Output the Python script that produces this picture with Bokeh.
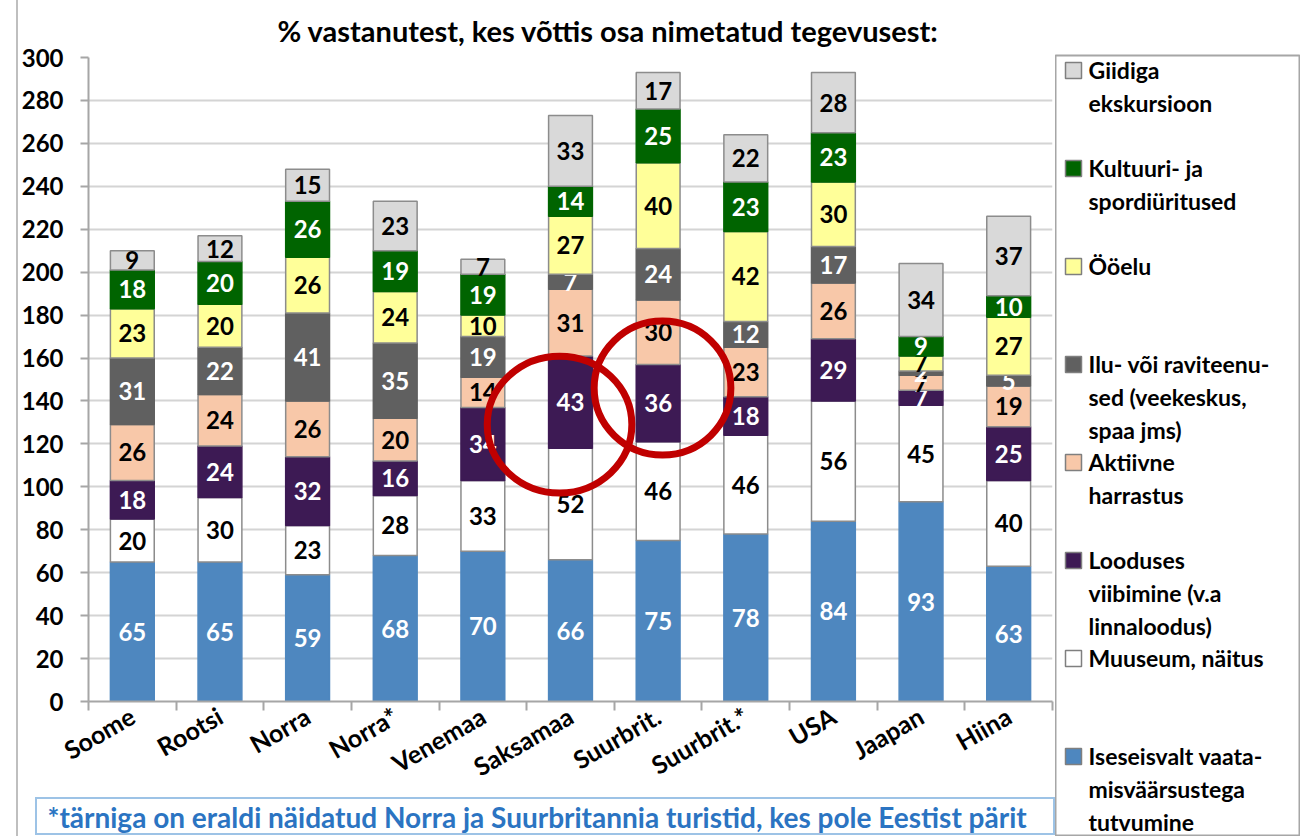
import math
from bokeh.plotting import figure
from bokeh.models import Range1d, FixedTicker, Div, Spacer
from bokeh.layouts import row, column
from bokeh.core.properties import value
from bokeh.embed import file_html
from bokeh.resources import INLINE

# ---------------- data ----------------
countries = ["Soome", "Rootsi", "Norra", "Norra*", "Venemaa", "Saksamaa",
             "Suurbrit.", "Suurbrit.*", "USA", "Jaapan", "Hiina"]
iseseisvalt = [65, 65, 59, 68, 70, 66, 75, 78, 84, 93, 63]
muuseum     = [20, 30, 23, 28, 33, 52, 46, 46, 56, 45, 40]
looduses    = [18, 24, 32, 16, 34, 43, 36, 18, 29, 7, 25]
aktiivne    = [26, 24, 26, 20, 14, 31, 30, 23, 26, 7, 19]
ilu         = [31, 22, 41, 35, 19, 7, 24, 12, 17, 2, 5]
ooelu       = [23, 20, 26, 24, 10, 27, 40, 42, 30, 7, 27]
kultuur     = [18, 20, 26, 19, 19, 14, 25, 23, 23, 9, 10]
giidiga     = [9, 12, 15, 23, 7, 33, 17, 22, 28, 34, 37]

series_values = [iseseisvalt, muuseum, looduses, aktiivne, ilu, ooelu, kultuur, giidiga]
series_labels = [
    "Iseseisvalt vaata-\nmisväärsustega\ntutvumine",
    "Muuseum, näitus",
    "Looduses\nviibimine (v.a\nlinnaloodus)",
    "Aktiivne\nharrastus",
    "Ilu- või raviteenu-\nsed (veekeskus,\nspaa jms)",
    "Ööelu",
    "Kultuuri- ja\nspordiüritused",
    "Giidiga\nekskursioon",
]
series_colors = ["#4E87BF", "#FFFFFF", "#3D1A54", "#F8C8A9", "#606060", "#FFFF99", "#006400", "#D9D9D9"]
series_text_colors = ["white", "black", "white", "black", "white", "black", "white", "black"]
series_line_colors = ["#4E87BF", "#8C8C8C", "#3D1A54", "#8C8C8C", "#606060", "#8C8C8C", "#006400", "#8C8C8C"]

y_ticks = list(range(0, 301, 20))
title_text = "% vastanutest, kes võttis osa nimetatud tegevusest:"
footnote_text = "*tärniga on eraldi näidatud Norra ja Suurbritannia turistid, kes pole Eestist pärit"

highlight_countries = ["Saksamaa", "Suurbrit."]

NCAT = len(countries)
xpos = [i + 0.5 for i in range(NCAT)]
FONT = value("Lato")
TOTAL_H = 836

# ---------------- main chart ----------------
p = figure(x_range=Range1d(0, NCAT), y_range=Range1d(0, 300),
           frame_width=964, frame_height=644,
           output_backend="svg", toolbar_location=None,
           min_border_left=70, min_border_right=3, min_border_top=57, min_border_bottom=94)
p.outline_line_color = None
p.background_fill_color = "white"
p.border_fill_color = "white"

p.title.text = title_text
p.title.align = "left"
p.title.offset = 189
p.title.text_font = "Lato"
p.title.text_font_style = "bold"
p.title.text_font_size = "29px"
p.title.text_color = "black"
p.title.standoff = 20

yax = p.yaxis[0]
yax.ticker = FixedTicker(ticks=y_ticks)
yax.major_label_text_font = "Lato"
yax.major_label_text_font_style = "bold"
yax.major_label_text_font_size = "24px"
yax.major_label_text_color = "black"
yax.axis_line_color = "#A6A6A6"
yax.axis_line_width = 2
yax.major_tick_line_color = "#A6A6A6"
yax.major_tick_line_width = 2
yax.major_tick_out = 8
yax.major_tick_in = 0
yax.minor_tick_line_color = None
yax.major_label_standoff = 17

p.ygrid.grid_line_color = "#D4D4D4"
p.ygrid.grid_line_width = 2
p.ygrid.ticker = FixedTicker(ticks=y_ticks)
p.xgrid.visible = False

xax = p.xaxis[0]
xax.ticker = FixedTicker(ticks=xpos, minor_ticks=list(range(NCAT + 1)))
xax.major_label_overrides = {x: c for x, c in zip(xpos, countries)}
xax.major_tick_line_color = None
xax.major_tick_out = 0
xax.major_tick_in = 0
xax.minor_tick_line_color = "#A6A6A6"
xax.minor_tick_line_width = 2
xax.minor_tick_out = 9
xax.minor_tick_in = 0
xax.axis_line_color = "#A6A6A6"
xax.axis_line_width = 2
xax.major_label_orientation = math.pi / 6
xax.major_label_text_font = "Lato"
xax.major_label_text_font_style = "bold"
xax.major_label_text_font_size = "25px"
xax.major_label_text_line_height = 0.7
xax.major_label_text_color = "black"
xax.major_label_standoff = 3

bottom = [0] * NCAT
for vals, col, tcol, lcol in zip(series_values, series_colors, series_text_colors, series_line_colors):
    top = [b + v for b, v in zip(bottom, vals)]
    mid = [(b + t) / 2 for b, t in zip(bottom, top)]
    p.vbar(x=xpos, bottom=bottom, top=top, width=0.5,
           fill_color=col, line_color=lcol, line_width=1.5)
    p.text(x=xpos, y=mid, text=[str(v) for v in vals],
           text_font=FONT, text_font_style="bold", text_font_size="24px",
           text_color=tcol, text_align="center", text_baseline="middle")
    bottom = top

# highlight circles around the "Looduses viibimine" segments
loo_idx = 2
circ_dx = [-0.125, 0.05]
circ_dy = [-10.5, 7]
cx, cy = [], []
for c, dx, dy in zip(highlight_countries, circ_dx, circ_dy):
    i = countries.index(c)
    base = sum(series_values[k][i] for k in range(loo_idx))
    cx.append(xpos[i] + dx)
    cy.append(base + series_values[loo_idx][i] / 2 + dy)
p.ellipse(x=cx, y=cy, width=[1.65, 1.56], height=[63.8, 62.4],
          fill_color=None, line_color="#C00000", line_width=7)

# ---------------- footnote box ----------------
fn = figure(width=1020, height=38, x_range=Range1d(35, 1055), y_range=Range1d(833, 795),
            x_axis_location=None, y_axis_location=None,
            output_backend="svg", toolbar_location=None,
            min_border_left=0, min_border_right=0, min_border_top=0, min_border_bottom=0)
fn.grid.visible = False
fn.outline_line_color = "#9DC3E6"
fn.outline_line_width = 3
fn.text(x=[47], y=[814], text=[footnote_text], text_font=FONT, text_font_style="bold",
        text_font_size="28px", text_color="#2B74C2", text_align="left", text_baseline="middle")

# ---------------- legend ----------------
lg = figure(width=245, height=TOTAL_H, x_range=Range1d(1055, 1300), y_range=Range1d(TOTAL_H, 55),
            x_axis_location=None, y_axis_location=None,
            output_backend="svg", toolbar_location=None,
            min_border_left=0, min_border_right=0, min_border_top=55, min_border_bottom=0)
lg.grid.visible = False
lg.outline_line_color = "#A6A6A6"
lg.outline_line_width = 2
order = list(range(len(series_labels)))[::-1]  # top of stack first
ly = [70 + 98.0 * k for k in range(len(order))]
lg.rect(x=[1073] * len(order), y=ly, width=16, height=16,
        fill_color=[series_colors[j] for j in order], line_color="#7F7F7F", line_width=1.5)
lg.text(x=[1088] * len(order), y=[v - 15 for v in ly], text=[series_labels[j] for j in order],
        text_font=FONT, text_font_style="bold", text_font_size="23px", text_color="black",
        text_align="left", text_baseline="top", text_line_height=1.18)

border_line = Div(width=2, height=TOTAL_H, margin=0, styles={"background-color": "#BFBFBF"})
left_col = column(p, row(Spacer(width=17, height=38, margin=0), fn, spacing=0), spacing=0)
layout = row(Spacer(width=16, height=TOTAL_H, margin=0), border_line, left_col, lg, spacing=0)

open("out.html", "w").write(file_html(layout, INLINE))
